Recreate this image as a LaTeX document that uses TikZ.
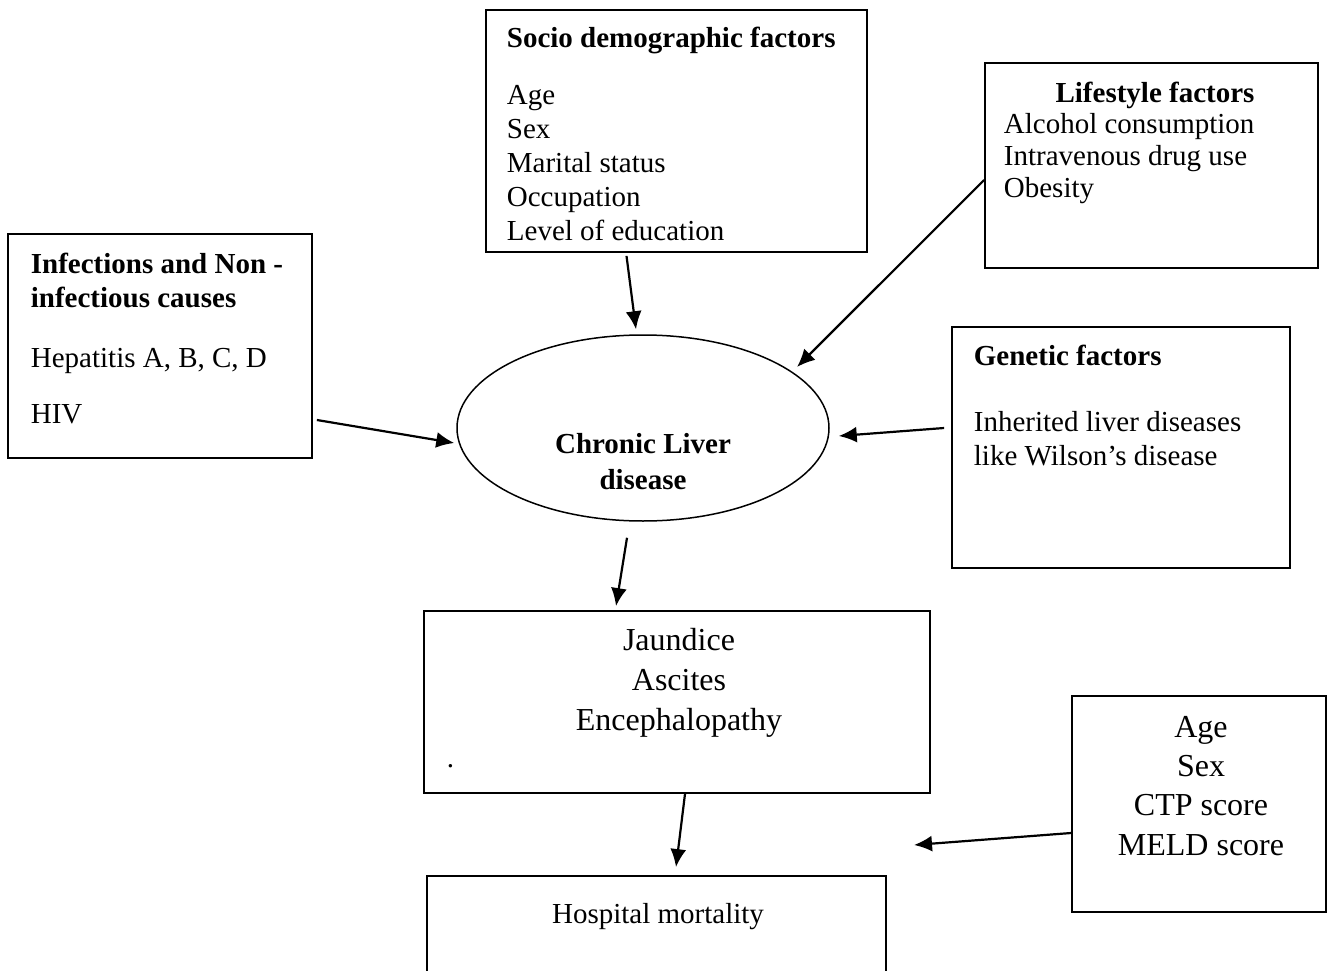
\documentclass[tikz,border=0pt]{standalone}
\usepackage{fontspec}
\setmainfont{Liberation Serif}
\usetikzlibrary{arrows.meta,shapes.geometric}

\begin{document}
\begin{tikzpicture}[x = 1pt, y = -1pt, line width = 1.8pt,
                        factor/.style = {draw, rectangle, inner sep = 0pt},
                        words/.style = {inner sep = 0pt, align = left, anchor = base west,
                                        font = \fontsize{29}{34}\selectfont},
                        bigwords/.style = {inner sep = 0pt, align = center, anchor = base,
                                        font = \fontsize{32}{40}\selectfont},
                        link/.style = {-{Latex[length = 18pt, width = 16pt]}, line width = 2.2pt}]
      \clip (0, 0) rectangle (1328, 971);

      \node [factor, minimum width = 304pt, minimum height = 224pt] (infect) at (160, 346){};
      \node [factor, minimum width = 381pt, minimum height = 242pt] (socio) at (676.5, 131){};
      \node [factor, minimum width = 333pt, minimum height = 205pt] (life) at (1151.5, 165.5){};
      \node [factor, minimum width = 338pt, minimum height = 241pt] (gene) at (1121, 447.5){};
      \node [factor, minimum width = 506pt, minimum height = 182pt] (sympt) at (677, 702){};
      \node [factor, minimum width = 254pt, minimum height = 216pt] (pred) at (1199, 804){};
      \node [factor, minimum width = 459pt, minimum height = 200pt] (mort) at (656.5, 976){};
      \node [ellipse, draw, line width = 1.5pt, minimum width = 372pt, minimum height = 186pt,
             inner sep = 0pt] (cld) at (643, 428){};

      % multi-line texts sit on the baseline of their last line
      \node [words] (infecttxt) at (30, 423) {\textbf{Infections and Non -}\\ \textbf{infectious causes}\\[26pt]
             Hepatitis A, B, C, D\\[22pt] HIV};
      \node [words] (sociotxt) at (506, 240) {\textbf{Socio demographic factors}\\[23pt] Age\\ Sex\\
             Marital status\\ Occupation\\ Level of education};
      \node [words, anchor = base] (lifehead) at (1155, 103) {\textbf{Lifestyle factors}};
      \node [words, font = \fontsize{29}{32}\selectfont] (lifetxt) at (1003, 197) {Alcohol consumption\\
             Intravenous drug use\\ Obesity};
      \node [words] (genetxt) at (973, 465) {\textbf{Genetic factors}\\[32pt] Inherited liver diseases\\
             like Wilson’s disease};
      \node [words, align = center, anchor = base, font = \fontsize{29}{36}\selectfont\bfseries] (cldtxt)
             at (643, 489) {Chronic Liver\\ disease};
      \node [bigwords] (symptxt) at (679, 730) {Jaundice\\ Ascites\\ Encephalopathy};
      \node [words] (dot) at (446, 767) {.};
      \node [words, anchor = base] (morttxt) at (658, 923) {Hospital mortality};
      \node [bigwords, font = \fontsize{32}{39.3}\selectfont] (predtxt) at (1201, 855) {Age\\ Sex\\
             CTP score\\ MELD score};

      \coordinate (riskpt) at (914, 845);

      \draw [link] ([xshift = -50pt, yshift = -3pt]socio.south) -- ([xshift = -7pt, yshift = 5pt]cld.north);
      \draw [link] ([yshift = -14.5pt]life.west) -- ([xshift = 154pt, yshift = 61pt]cld.center);
      \draw [link] ([xshift = 4pt, yshift = -74pt]infect.east) -- ([xshift = -2pt, yshift = -15pt]cld.west);
      \draw [link] ([xshift = -7pt, yshift = 19.5pt]gene.west) -- ([xshift = 9pt, yshift = -8pt]cld.east);
      \draw [link] ([xshift = -16pt, yshift = -16pt]cld.south) -- ([xshift = -61pt, yshift = 4pt]sympt.north);
      \draw [link] ([xshift = 8pt]sympt.south) -- ([xshift = 19.5pt, yshift = 8pt]mort.north);
      \draw [link] ([yshift = -29pt]pred.west) -- (riskpt);
      \end{tikzpicture}
\end{document}
